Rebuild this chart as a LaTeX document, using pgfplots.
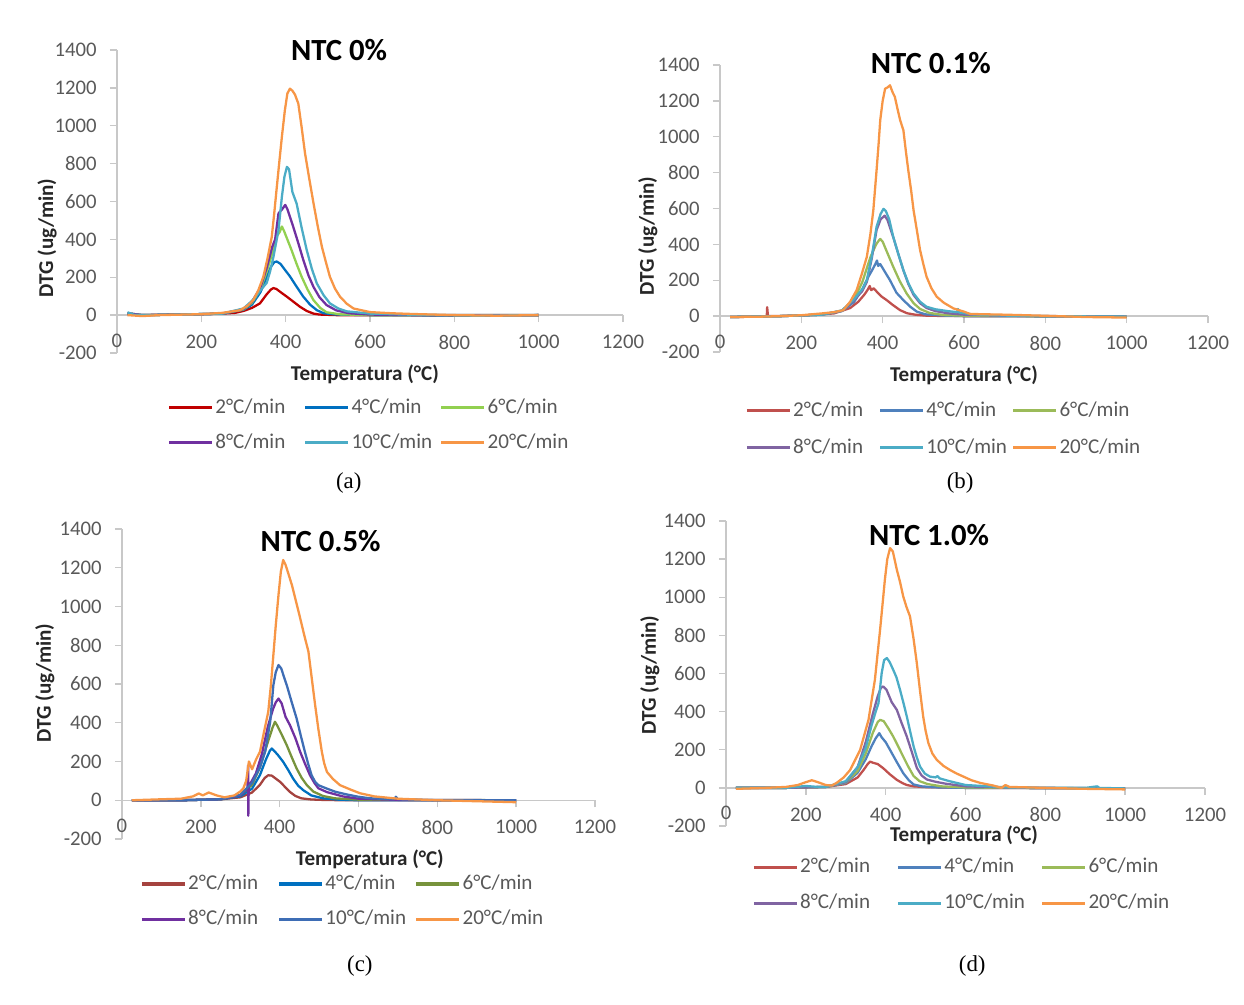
\documentclass[border=0pt]{standalone}
\usepackage{pgfplots}
\pgfplotsset{compat=1.18}
\usepackage{fontspec}
\setmainfont{Carlito}
\newfontfamily\capfont{Liberation Serif}

\definecolor{axgray}{HTML}{C8C8C8}
\definecolor{tkgray}{HTML}{595959}
% panel a
\definecolor{aA}{HTML}{C00000}
\definecolor{aB}{HTML}{0070C0}
\definecolor{aC}{HTML}{92D050}
\definecolor{aD}{HTML}{7030A0}
\definecolor{aE}{HTML}{4BACC6}
\definecolor{aF}{HTML}{F79646}
% office palette (b, d)
\definecolor{oA}{HTML}{C0504D}
\definecolor{oB}{HTML}{4F81BD}
\definecolor{oC}{HTML}{9BBB59}
\definecolor{oD}{HTML}{8064A2}
\definecolor{oE}{HTML}{4BACC6}
\definecolor{oF}{HTML}{F79646}
% panel c
\definecolor{cA}{HTML}{A5433F}
\definecolor{cB}{HTML}{0070C0}
\definecolor{cC}{HTML}{77933C}
\definecolor{cD}{HTML}{7030A0}
\definecolor{cE}{HTML}{3E6DB5}
\definecolor{cF}{HTML}{F79646}

\newcommand{\lent}[2]{\addlegendentry{\makebox[#1][l]{#2}}}
\newcommand{\xzero}{\node[anchor=north, text=tkgray, font=\fontsize{11.8}{13}\selectfont] at ([yshift=-7pt]axis cs:0,0) {0};}

\pgfplotsset{
  panel/.style={
    scale only axis,
    xmin=0,xmax=1200,ymin=-200,ymax=1400,
    axis x line=middle, axis y line=left,
    axis line style={-, draw=axgray, line width=0.8pt},
    xtick={0,200,...,1200}, ytick={-200,0,...,1400},
    tick align=outside, major tick length=4pt,
    tick style={axgray, line width=0.8pt},
    ticklabel style={font=\fontsize{11.8}{13}\selectfont, text=tkgray},
    xticklabel style={yshift=-3.7pt},
    yticklabel style={xshift=-4pt},
    /pgf/number format/assume math mode=true,
    /pgf/number format/1000 sep={},
    xlabel={Temperatura (°C)},
    ylabel={DTG (ug/min)},
    label style={font=\bfseries\fontsize{12}{14}\selectfont, text=black!85},
    every axis title shift=0pt,
    title style={font=\bfseries\fontsize{17.5}{20}\selectfont, text=black, anchor=center},
    clip=false,
    legend columns=3,
    legend cell align=left,
    legend style={draw=none, fill=none, anchor=north west, inner sep=0pt,
       font=\fontsize{12}{14}\selectfont, text=tkgray,
       nodes={inner xsep=1pt, inner ysep=0pt, text height=9pt, text depth=3pt}},
    legend image code/.code={\draw[#1, line width=1.8pt] (0cm,0cm) -- (0.86cm,0cm);},
    every axis plot/.append style={line width=1.3pt, line join=round},
  }
}

\begin{document}
\begin{tikzpicture}
\path[use as bounding box] (0,0) rectangle (24.88cm,20.08cm);

% ---------------- (a) NTC 0% ----------------
\begin{axis}[panel,
  at={(2.34cm,13.02cm)}, anchor=south west, width=10.12cm, height=6.06cm,
  title={NTC 0\%}, title style={at={(axis description cs:0.439,1.0)}},
  xlabel style={at={(axis description cs:0.49,-0.069)}, anchor=center},
  ylabel style={at={(axis description cs:-0.138,0.38)}, anchor=center},
  legend style={at={(axis description cs:0.099,-0.145)}, row sep=0.28cm},
]
\addplot[aA] coordinates {(25,5)(50,0)(100,2)(200,5)(250,8)(280,12)(300,22)(320,38)(339,62)(355,110)(365,135)(371,143)(378,138)(390,118)(403,97)(420,68)(434,44)(450,22)(466,8)(480,3)(520,0)(700,0)(800,-3)(900,-2)(1000,0)};
\lent{1.73cm}{2°C/min}
\addplot[aB] coordinates {(25,10)(60,0)(150,3)(250,8)(300,28)(320,55)(340,120)(355,200)(365,255)(373,280)(379,283)(388,270)(398,240)(410,205)(426,150)(442,97)(458,55)(474,26)(490,10)(520,3)(600,0)(800,-2)(1000,0)};
\lent{1.73cm}{4°C/min}
\addplot[aC] coordinates {(25,10)(60,0)(150,3)(250,8)(300,30)(320,65)(340,135)(355,230)(370,340)(380,420)(386,440)(391,468)(396,445)(414,343)(426,270)(438,202)(452,135)(466,79)(482,38)(497,15)(530,4)(600,0)(1000,0)};
\lent{1.73cm}{6°C/min}
\addplot[aD] coordinates {(25,10)(60,0)(150,3)(250,8)(300,32)(320,70)(340,145)(355,250)(368,360)(375,400)(383,537)(392,560)(399,582)(404,560)(418,466)(430,380)(442,290)(454,210)(466,149)(480,95)(497,53)(520,25)(550,10)(600,3)(700,0)(1000,0)};
\lent{1.73cm}{8°C/min}
\addplot[aE] coordinates {(25,15)(40,2)(60,0)(150,3)(250,8)(300,35)(320,75)(340,130)(355,170)(363,230)(371,308)(383,449)(391,624)(397,730)(403,783)(408,770)(416,650)(426,589)(438,460)(450,343)(462,245)(474,167)(490,105)(505,62)(525,35)(545,20)(600,8)(700,2)(850,-3)(1000,0)};
\lent{1.73cm}{10°C/min}
\addplot[aF] coordinates {(25,0)(60,-5)(100,0)(200,5)(250,12)(292,26)(310,50)(323,79)(335,130)(347,202)(357,300)(367,413)(373,540)(379,677)(385,810)(391,941)(398,1080)(404,1170)(410,1196)(416,1185)(422,1165)(430,1117)(438,990)(446,853)(456,720)(466,591)(476,470)(486,360)(496,275)(505,202)(517,140)(529,97)(545,60)(561,35)(600,16)(650,10)(700,6)(800,0)(900,-3)(1000,0)};
\lent{1.73cm}{20°C/min}
\xzero
\node[font=\capfont\fontsize{13}{15}\selectfont] at (axis description cs:0.458,-0.429) {(a)};
\end{axis}

% ---------------- (b) NTC 0.1% ----------------
\begin{axis}[panel,
  at={(14.4cm,13.04cm)}, anchor=south west, width=9.76cm, height=5.74cm,
  title={NTC 0.1\%}, title style={at={(axis description cs:0.432,1.007)}},
  xlabel style={at={(axis description cs:0.5,-0.08)}, anchor=center},
  ylabel style={at={(axis description cs:-0.148,0.404)}, anchor=center},
  legend style={at={(axis description cs:0.051,-0.167)}, row sep=0.32cm},
]
\addplot[oA] coordinates {(25,-5)(100,-3)(115,0)(116,50)(118,0)(200,3)(280,15)(320,45)(340,80)(355,120)(364,150)(368,168)(372,145)(378,155)(386,135)(398,108)(410,89)(425,62)(443,33)(460,16)(480,8)(510,2)(600,0)(1000,-3)};
\lent{1.67cm}{2°C/min}
\addplot[oB] coordinates {(25,-5)(150,0)(250,8)(300,28)(330,80)(350,150)(365,220)(375,260)(382,290)(386,310)(389,280)(394,290)(402,260)(418,200)(434,130)(451,89)(468,52)(484,25)(505,10)(550,3)(600,0)(1000,-3)};
\lent{1.67cm}{4°C/min}
\addplot[oC] coordinates {(25,-5)(150,0)(250,8)(300,30)(330,95)(350,190)(370,330)(384,400)(390,420)(394,430)(400,415)(412,350)(426,275)(442,195)(459,126)(476,72)(492,40)(515,18)(550,6)(600,2)(1000,-3)};
\lent{1.67cm}{6°C/min}
\addplot[oD] coordinates {(25,-5)(150,0)(250,8)(300,30)(330,90)(350,140)(361,190)(373,320)(385,480)(395,540)(405,560)(412,535)(426,440)(438,350)(451,255)(463,180)(476,118)(492,72)(508,45)(530,28)(560,16)(600,8)(700,2)(1000,-3)};
\lent{1.67cm}{8°C/min}
\addplot[oE] coordinates {(25,-5)(150,0)(250,8)(300,32)(330,95)(350,150)(361,200)(373,330)(385,498)(395,570)(402,598)(408,585)(416,540)(426,442)(438,350)(451,256)(463,185)(476,126)(492,80)(508,52)(530,38)(560,28)(583,22)(585,40)(588,20)(620,10)(700,3)(800,0)(1000,-3)};
\lent{1.67cm}{10°C/min}
\addplot[oF] coordinates {(25,-5)(100,-3)(150,0)(200,5)(250,15)(280,22)(303,33)(320,80)(336,145)(348,230)(361,330)(370,460)(377,590)(385,813)(390,960)(394,1092)(400,1200)(406,1268)(412,1275)(418,1287)(424,1250)(430,1222)(436,1160)(443,1092)(451,1036)(457,920)(463,813)(470,700)(476,590)(484,480)(492,368)(500,290)(508,219)(520,155)(533,108)(550,75)(574,43)(600,25)(615,12)(700,8)(800,2)(900,-5)(1000,-8)};
\lent{1.67cm}{20°C/min}
\xzero
\node[font=\capfont\fontsize{13}{15}\selectfont] at (axis description cs:0.492,-0.456) {(b)};
\end{axis}

% ---------------- (c) NTC 0.5% ----------------
\begin{axis}[panel,
  at={(2.44cm,3.30cm)}, anchor=south west, width=9.46cm, height=6.2cm,
  title={NTC 0.5\%}, title style={at={(axis description cs:0.42,0.961)}},
  xlabel style={at={(axis description cs:0.524,-0.065)}, anchor=center},
  ylabel style={at={(axis description cs:-0.163,0.503)}, anchor=center},
  legend style={at={(axis description cs:0.038,-0.11)}, row sep=0.28cm},
]
\addplot[cA] coordinates {(25,0)(150,0)(250,5)(300,15)(330,40)(350,80)(362,115)(371,129)(380,127)(390,112)(401,95)(413,70)(426,43)(440,22)(455,10)(480,4)(520,1)(600,0)(1000,0)};
\lent{1.75cm}{2°C/min}
\addplot[cB] coordinates {(25,0)(150,0)(250,5)(300,20)(330,60)(350,130)(365,210)(375,255)(380,267)(386,255)(395,235)(409,198)(422,155)(434,112)(447,75)(460,52)(480,25)(510,10)(550,3)(600,0)(1000,0)};
\lent{1.75cm}{4°C/min}
\addplot[cC] coordinates {(25,0)(150,0)(250,5)(300,25)(330,80)(350,170)(370,300)(382,375)(388,405)(394,385)(405,340)(418,284)(430,225)(443,164)(456,115)(469,78)(485,45)(510,22)(540,10)(600,3)(1000,0)};
\lent{1.75cm}{6°C/min}
\addplot[cD] coordinates {(25,0)(150,0)(250,5)(300,25)(318,60)(320,180)(320.5,-80)(321.5,70)(340,140)(355,240)(370,380)(383,470)(390,505)(397,525)(405,500)(415,430)(426,388)(440,320)(452,250)(465,185)(477,129)(488,90)(498,62)(520,42)(560,20)(600,8)(700,2)(1000,0)};
\lent{1.75cm}{8°C/min}
\addplot[cE] coordinates {(25,0)(150,0)(250,5)(300,28)(330,90)(350,170)(363,250)(376,405)(384,594)(390,660)(397,698)(404,680)(412,630)(418,594)(430,510)(443,422)(454,330)(464,250)(472,190)(481,129)(490,95)(498,78)(520,60)(541,44)(570,30)(600,18)(630,10)(690,5)(695,18)(700,5)(800,0)(1000,0)};
\lent{1.75cm}{10°C/min}
\addplot[cF] coordinates {(25,0)(100,5)(150,8)(180,20)(195,35)(205,25)(220,40)(240,25)(260,15)(285,25)(300,45)(308,62)(315,100)(322,200)(330,160)(340,210)(350,250)(360,350)(371,456)(378,600)(384,749)(390,900)(397,1059)(403,1180)(409,1240)(415,1215)(422,1170)(431,1111)(441,1030)(452,940)(462,855)(473,767)(482,620)(490,491)(498,370)(507,250)(513,190)(520,146)(535,110)(553,78)(580,55)(604,36)(640,20)(700,8)(800,0)(900,-5)(1000,-10)};
\lent{1.75cm}{20°C/min}
\xzero
\node[font=\capfont\fontsize{13}{15}\selectfont] at (axis description cs:0.503,-0.41) {(c)};
\end{axis}

% ---------------- (d) NTC 1.0% ----------------
\begin{axis}[panel,
  at={(14.52cm,3.56cm)}, anchor=south west, width=9.58cm, height=6.1cm,
  title={NTC 1.0\%}, title style={at={(axis description cs:0.424,0.954)}},
  xlabel style={at={(axis description cs:0.497,-0.031)}, anchor=center},
  ylabel style={at={(axis description cs:-0.159,0.495)}, anchor=center},
  legend style={at={(axis description cs:0.054,-0.10)}, row sep=0.30cm},
]
\addplot[oA] coordinates {(25,0)(150,0)(250,5)(300,20)(330,55)(345,95)(355,125)(361,138)(368,132)(380,125)(394,103)(410,72)(428,42)(442,25)(453,15)(470,8)(500,4)(550,2)(600,0)(1000,-3)};
\lent{1.89cm}{2°C/min}
\addplot[oB] coordinates {(25,0)(150,0)(250,5)(300,25)(330,80)(350,150)(365,220)(375,260)(384,287)(390,265)(400,240)(411,199)(428,135)(444,77)(458,40)(470,18)(490,8)(520,3)(600,0)(1000,-3)};
\lent{1.89cm}{4°C/min}
\addplot[oC] coordinates {(25,0)(150,0)(250,5)(300,28)(330,90)(350,180)(368,290)(380,345)(386,357)(395,350)(406,315)(419,269)(432,215)(444,164)(457,110)(470,62)(485,35)(505,20)(540,8)(600,2)(1000,-3)};
\lent{1.89cm}{6°C/min}
\addplot[oD] coordinates {(25,0)(150,0)(250,5)(300,30)(330,110)(350,240)(368,390)(380,480)(388,525)(394,532)(402,515)(415,450)(428,409)(440,340)(453,269)(466,185)(478,105)(490,65)(503,44)(525,32)(550,22)(600,8)(700,2)(1000,-3)};
\lent{1.89cm}{8°C/min}
\addplot[oE] coordinates {(25,0)(150,0)(200,10)(230,5)(250,5)(300,35)(330,110)(350,210)(365,330)(375,400)(382,444)(390,602)(396,670)(403,681)(410,660)(419,619)(427,580)(436,514)(444,450)(453,374)(462,290)(470,217)(478,160)(486,112)(498,75)(511,59)(525,55)(530,62)(535,50)(560,35)(600,15)(700,3)(800,0)(900,0)(930,8)(935,0)(1000,-3)};
\lent{1.89cm}{10°C/min}
\addplot[oF] coordinates {(25,-5)(100,0)(150,5)(180,15)(200,30)(215,40)(230,30)(250,15)(265,12)(277,26)(295,55)(311,94)(336,199)(357,357)(373,567)(386,829)(392,960)(398,1092)(404,1200)(411,1258)(418,1240)(428,1144)(436,1080)(444,1004)(452,950)(461,899)(470,780)(478,655)(486,510)(494,374)(500,300)(507,235)(517,180)(528,147)(545,115)(561,94)(578,75)(595,59)(615,40)(637,26)(670,12)(690,0)(700,15)(710,5)(800,0)(900,-5)(1000,-8)};
\lent{1.89cm}{20°C/min}
\xzero
\node[font=\capfont\fontsize{13}{15}\selectfont] at (axis description cs:0.514,-0.459) {(d)};
\end{axis}
\end{tikzpicture}
\end{document}
